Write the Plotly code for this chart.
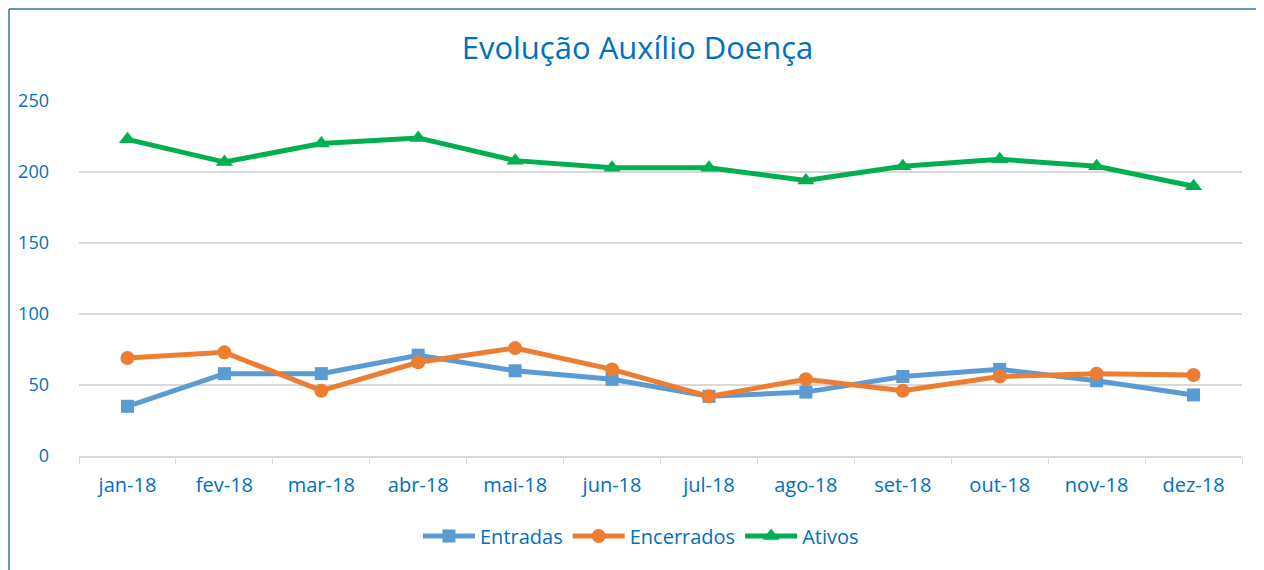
import plotly.graph_objects as go

months = ["jan-18", "fev-18", "mar-18", "abr-18", "mai-18", "jun-18",
          "jul-18", "ago-18", "set-18", "out-18", "nov-18", "dez-18"]
entradas = [35, 58, 58, 71, 60, 54, 42, 45, 56, 61, 53, 43]
encerrados = [69, 73, 46, 66, 76, 61, 42, 54, 46, 56, 58, 57]
ativos = [223, 207, 220, 224, 208, 203, 203, 194, 204, 209, 204, 190]
y_ticks = [0, 50, 100, 150, 200, 250]

TXT = "#0070C0"
FONT = "Open Sans"
PW, PH = 1163, 355
L, T = 71, 93
BORDER = "#2E75B6"

fig = go.Figure()
fig.add_trace(go.Scatter(x=months, y=entradas, name="Entradas", mode="lines+markers",
                         line=dict(color="#5B9BD5", width=5),
                         marker=dict(symbol="square", size=13, color="#5B9BD5")))
fig.add_trace(go.Scatter(x=months, y=encerrados, name="Encerrados", mode="lines+markers",
                         line=dict(color="#ED7D31", width=5),
                         marker=dict(symbol="circle", size=14, color="#ED7D31")))
fig.add_trace(go.Scatter(x=months, y=ativos, name="Ativos", mode="lines+markers",
                         line=dict(color="#00B050", width=5),
                         marker=dict(symbol="triangle-up", size=15, color="#00B050")))

bx = (1 - L) / PW            # left border, 1px inside figure
by = (PH + T - 1) / PH       # top border, 1px inside figure
fig.update_layout(
    width=1264, height=570,
    margin=dict(l=L, r=1264 - L - PW, t=T, b=570 - T - PH, autoexpand=False),
    paper_bgcolor="white", plot_bgcolor="white",
    font=dict(family=FONT, color=TXT, size=18),
    title=dict(text="Evolução Auxílio Doença", x=(637.5 - 79) / PW, xref="paper",
               xanchor="center", y=1 - 40 / 570, yref="container", yanchor="middle",
               font=dict(size=31, color=TXT, family=FONT)),
    showlegend=True,
    legend=dict(orientation="h", x=(641 - 79) / PW, xanchor="center",
                y=(456 - 536) / PH, yanchor="middle", font=dict(size=20, color=TXT),
                itemwidth=52, tracegroupgap=0),
    xaxis=dict(type="category", range=[-0.5, 11.5], tickson="boundaries",
               ticks="outside", ticklen=6, tickcolor="#d9d9d9",
               showline=True, linecolor="#d9d9d9", linewidth=1.5, tickangle=0,
               ticklabelstandoff=10,
               showgrid=False, tickfont=dict(size=20, color=TXT), fixedrange=True),
    yaxis=dict(range=[0, 250], tickvals=y_ticks, showgrid=True, gridcolor="#d9d9d9",
               gridwidth=1.5, zeroline=False, showline=False, ticks="",
               ticklabelstandoff=29,
               tickfont=dict(size=18, color=TXT), fixedrange=True),
    shapes=[
        dict(type="line", xref="paper", yref="paper", x0=bx, x1=bx,
             y0=-(570 - T - PH + 20) / PH, y1=by,
             line=dict(color=BORDER, width=1.5), layer="below"),
        dict(type="line", xref="paper", yref="paper", x0=bx, x1=(1264 - L + 20) / PW,
             y0=by, y1=by, line=dict(color=BORDER, width=1.5), layer="below"),
    ],
)

fig.write_html("out.html")
